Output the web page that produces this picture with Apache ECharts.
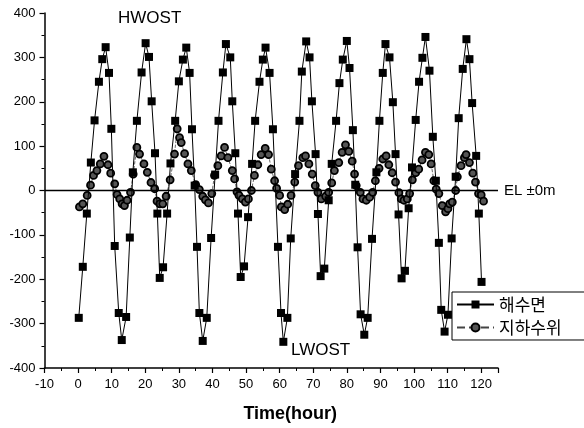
<!DOCTYPE html>
<html>
<head>
<meta charset="utf-8">
<script src="https://cdn.jsdelivr.net/npm/echarts@6/dist/echarts.min.js"></script>
<style>
  html, body { margin: 0; padding: 0; background: #fff; }
  #chart { width: 584px; height: 428px; }
</style>
</head>
<body>
<div id="chart"></div>
<script>
// 해수면 (sea level) - time (hour) and level
const seaHours = [0.2, 1.4, 2.6, 3.8, 4.9, 6.2, 7.2, 8.2, 9.2, 9.9, 10.9, 12.1, 13.0, 14.3, 15.4, 16.3, 17.5, 18.9, 20.1,
  21.1, 21.9, 22.9, 23.6, 24.3, 25.3, 26.5, 27.5, 28.9, 30.0, 31.2, 32.2, 33.2, 33.9, 34.7, 35.4, 36.1, 37.1,
  38.3, 39.6, 40.8, 41.8, 43.1, 44.0, 45.3, 45.9, 46.8, 47.6, 48.4, 49.4, 50.6, 51.8, 52.7, 54.0, 55.0, 55.8,
  57.0, 58.0, 59.5, 60.4, 61.1, 62.3, 63.3, 64.6, 65.9, 66.6, 67.9, 68.9, 69.6, 70.7, 71.4, 72.2, 73.3, 74.6,
  75.5, 76.8, 77.8, 78.8, 80.0, 80.8, 81.8, 82.5, 83.2, 84.1, 85.2, 86.2, 87.5, 88.8, 89.7, 90.7, 91.5, 92.7,
  93.7, 94.5, 95.4, 96.3, 97.3, 98.4, 99.4, 100.5, 101.5, 102.5, 103.4, 104.6, 105.6, 106.5, 107.4, 108.1,
  109.1, 110.1, 111.2, 112.4, 113.3, 114.5, 115.6, 116.5, 117.3, 118.5, 119.3, 120.1];
const seaLevels = [-287, -172, -52, 63, 158, 245, 296, 323, 265, 139, -125, -276, -337, -285, -106, 41, 157, 266, 332,
  301, 201, 84, -52, -197, -173, -52, 61, 157, 246, 295, 322, 265, 138, 11, -127, -276, -339,
  -287, -107, 36, 157, 266, 330, 300, 201, 84, -52, -195, -171, -60, 60, 157, 245, 295, 322,
  265, 138, -127, -276, -341, -287, -108, 37, 157, 268, 336, 300, 201, 82, -53, -193, -176, -22,
  60, 157, 242, 295, 337, 276, 136, 13, -128, -279, -325, -287, -109, 41, 157, 265, 330, 300,
  199, 82, -54, -198, -181, -40, 52, 159, 245, 299, 346, 270, 121, 22, -118, -269,
  -318, -280, -108, 31, 163, 274, 341, 296, 197, 78, -52, -206];

// 지하수위 (groundwater level)
const gwHours = [0.4, 1.4, 2.7, 3.7, 4.6, 5.6, 6.6, 7.7, 8.9, 9.7, 10.9, 11.6, 12.4, 13.1, 13.8, 14.6, 15.6, 16.4,
  17.5, 18.3, 19.6, 20.6, 21.7, 22.8, 23.5, 24.3, 25.2, 26.2, 27.4, 28.7, 29.5, 30.2, 30.7, 31.7, 32.7, 33.7,
  35.0, 36.1, 37.1, 37.9, 38.8, 39.8, 40.6, 41.6, 42.6, 43.6, 44.6, 45.9, 46.6, 47.3, 47.9, 48.9, 49.8, 50.7,
  51.6, 52.5, 53.5, 54.5, 55.7, 56.7, 57.5, 58.5, 59.1, 60.0, 60.5, 61.5, 62.4, 63.4, 64.5, 65.6, 66.9, 67.7,
  68.7, 69.7, 70.6, 71.4, 72.4, 73.7, 74.6, 75.5, 76.3, 77.6, 78.6, 79.6, 80.6, 81.6, 82.3, 82.8, 84.0, 84.8,
  85.8, 86.8, 87.7, 88.5, 89.6, 90.7, 91.7, 92.5, 93.5, 94.5, 95.5, 96.2, 97.0, 98.0, 98.7, 99.5, 100.5,
  101.4, 102.4, 103.4, 104.4, 105.1, 105.9, 106.6, 107.4, 108.4, 109.4, 110.1, 110.6, 111.4, 112.4, 112.9,
  114.0, 115.0, 115.5, 116.5, 117.5, 118.3, 119.2, 120.0, 120.7];
const gwLevels = [-37, -30, -11, 12, 34, 45, 60, 77, 58, 39, 15, -9, -19, -30, -34, -22, -4, 37,
  97, 82, 60, 41, 18, 4, -24, -30, -30, -13, 24, 82, 139, 119, 108, 83, 60, 45,
  13, 2, -13, -21, -28, -7, 34, 56, 78, 97, 74, 45, 26, -3, -11, -19, -26, -19,
  0, 34, 58, 81, 95, 81, 48, 22, 5, -11, -37, -43, -31, -11, 19, 56, 74, 78,
  60, 37, 11, -4, -19, -13, -4, 17, 45, 63, 86, 103, 88, 66, 37, 11, -4, -19,
  -22, -15, -4, 22, 50, 71, 78, 58, 40, 19, -5, -19, -22, -19, -7, 24, 40,
  48, 69, 86, 81, 60, 22, 3, -7, -34, -48, -41, -30, -26, 0, 31,
  56, 74, 81, 63, 39, 19, -7, -10, -24];

const xTicks = { min: -10, max: 125, interval: 10 };
const yTicks = { min: -400, max: 400, interval: 100 };

const fonte = "'Liberation Sans', Arial, sans-serif";
const fonteKr = "'Noto Sans CJK KR', 'Liberation Sans', sans-serif";

const seaData = seaHours.map((h, i) => [h, seaLevels[i]]);
const gwData = gwHours.map((h, i) => [h, gwLevels[i]]);

const chart = echarts.init(document.getElementById("chart"));

const option = {
  animation: false,
  backgroundColor: "#fff",
  grid: { left: 44.5, right: 86, top: 13, bottom: 60 },
  xAxis: {
    type: "value",
    min: xTicks.min,
    max: xTicks.max,
    interval: xTicks.interval,
    name: "Time(hour)",
    nameLocation: "middle",
    nameGap: 37,
    nameTextStyle: { fontFamily: fonte, fontSize: 18, fontWeight: "bold", color: "#000", padding: [0, 0, 0, 38] },
    axisLine: { onZero: false, lineStyle: { color: "#000", width: 1.5 } },
    axisTick: { length: 5, lineStyle: { color: "#000", width: 1.2 } },
    minorTick: { show: true, splitNumber: 2, length: 3, lineStyle: { color: "#000" } },
    axisLabel: { fontFamily: fonte, fontSize: 13, color: "#000", margin: 10, showMaxLabel: false },
    splitLine: { show: false }
  },
  yAxis: {
    type: "value",
    min: yTicks.min,
    max: yTicks.max,
    interval: yTicks.interval,
    axisLine: { show: true, onZero: false, lineStyle: { color: "#000", width: 1.5 } },
    axisTick: { show: true, length: 5, lineStyle: { color: "#000", width: 1.2 } },
    minorTick: { show: true, splitNumber: 2, length: 3, lineStyle: { color: "#000" } },
    axisLabel: { fontFamily: fonte, fontSize: 13, color: "#000", margin: 9 },
    splitLine: { show: false }
  },
  legend: {
    orient: "vertical",
    left: 452,
    top: 292,
    padding: [4, 40, 4, 4],
    itemGap: 6,
    itemWidth: 37,
    itemHeight: 10,
    borderColor: "#000",
    borderWidth: 1,
    borderRadius: 0,
    textStyle: { fontFamily: fonteKr, fontSize: 17, color: "#000" },
    data: ["해수면", "지하수위"]
  },
  graphic: [
    { type: "text", left: 118, top: 10, style: { text: "HWOST", font: "17px " + fonte, fill: "#000" } },
    { type: "text", left: 291, top: 342, style: { text: "LWOST", font: "17px " + fonte, fill: "#000" } }
  ],
  series: [
    {
      name: "해수면",
      type: "line",
      data: seaData,
      symbol: "rect",
      symbolSize: 8,
      z: 3,
      lineStyle: { color: "#000", width: 1 },
      itemStyle: { color: "#000" },
      markLine: {
        silent: true,
        symbol: "none",
        data: [{ yAxis: 0 }],
        lineStyle: { color: "#000", width: 1.3, type: "solid" },
        label: { show: true, position: "end", formatter: "EL ±0m", fontFamily: fonte, fontSize: 15, color: "#000", distance: 6 }
      }
    },
    {
      name: "지하수위",
      type: "line",
      data: gwData,
      symbol: "circle",
      symbolSize: 7,
      z: 2,
      lineStyle: { color: "#444", width: 0.8, type: "dashed" },
      itemStyle: { color: "#555", borderColor: "#000", borderWidth: 1.8 }
    }
  ]
};
chart.setOption(option);
</script>
</body>
</html>
